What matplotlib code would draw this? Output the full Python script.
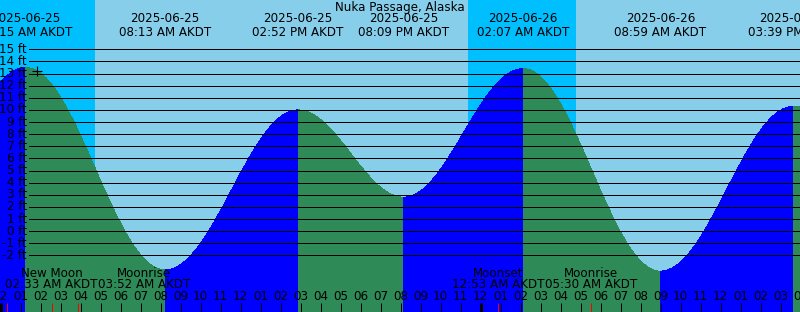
import matplotlib
matplotlib.use('Agg')
import matplotlib.pyplot as plt
from matplotlib.path import Path
from matplotlib.patches import PathPatch
import pandas as pd

# tide extremes (first and last are just outside the visible window)
tide_times = ['2025-06-24 19:24', '2025-06-25 01:15', '2025-06-25 08:13',
              '2025-06-25 14:52', '2025-06-25 20:09', '2025-06-26 02:07',
              '2025-06-26 08:59', '2025-06-26 15:39', '2025-06-26 21:00']
tide_heights = [2.6, 13.5, -3.2, 10.0, 2.8, 13.4, -3.3, 10.3, 3.0]

sunrise_times = ['2025-06-25 04:43', '2025-06-26 04:46']
sunset_times = ['2025-06-25 23:22']

moon_times = ['2025-06-25 00:18', '2025-06-25 02:33', '2025-06-25 03:52',
              '2025-06-26 00:53', '2025-06-26 05:30']
moon_names = ['Moonset', 'New Moon', 'Moonrise', 'Moonset', 'Moonrise']

now_time = '2025-06-25 01:49'
now_height = 13.2

title = 'Nuka Passage, Alaska'
ft_levels = list(range(-2, 16))
start = pd.Timestamp('2025-06-25 00:00')
view_hours = 40

NIGHT = '#00bfff'
DAY = '#87ceeb'
RISE = '#0000ff'
FALL = '#2e8b57'
FS = 8.6
THIN = 0.72


def hrs(s):
    return (pd.Timestamp(s) - start).total_seconds() / 3600


t_tide = [hrs(s) for s in tide_times]
t_moon = [hrs(s) for s in moon_times]

fig = plt.figure(figsize=(8, 3.12), dpi=100)
ax = fig.add_axes([0, 0, 1, 1])
ax.set_xlim(-0.035, -0.035 + view_hours)
ax.set_ylim(-6.67, 19.07)
ax.axis('off')
x0, x1 = ax.get_xlim()

# day / night background
ax.axvspan(x0, x1, color=DAY, lw=0, zorder=0)
ax.axvspan(x0 - 5, hrs(sunrise_times[0]), color=NIGHT, lw=0, zorder=0)
ax.axvspan(hrs(sunset_times[0]), hrs(sunrise_times[1]), color=NIGHT, lw=0, zorder=0)

# tide curve: smooth cosine-like segments between extremes
a = 0.3642
for i in range(len(t_tide) - 1):
    ta, tb = t_tide[i], t_tide[i + 1]
    ha, hb = tide_heights[i], tide_heights[i + 1]
    d = tb - ta
    verts = [(ta, -10), (ta, ha), (ta + a * d, ha), (tb - a * d, hb), (tb, hb),
             (tb, -10), (ta, -10)]
    codes = [Path.MOVETO, Path.LINETO, Path.CURVE4, Path.CURVE4, Path.CURVE4,
             Path.LINETO, Path.CLOSEPOLY]
    col = RISE if hb > ha else FALL
    ax.add_patch(PathPatch(Path(verts, codes), facecolor=col, edgecolor='none',
                           antialiased=False, zorder=1))

# height grid
for lv in ft_levels:
    ax.axhline(lv, xmin=29 / 800, xmax=1, color='black', lw=THIN,
               snap=True, zorder=2)
    ax.text(27 / 800, lv, f'{lv} ft', transform=ax.get_yaxis_transform(),
            ha='right', va='center', fontsize=FS, zorder=3)

ax.plot([hrs(now_time)], [now_height], marker='+', color='black', ms=7,
        mew=0.8, zorder=3)

xt = ax.get_xaxis_transform()
ax.text(0.5, 1 - 7 / 312, title, transform=ax.transAxes, ha='center',
        va='center', fontsize=FS)

# tide event labels at top
for s, t in zip(tide_times, t_tide):
    if x0 - 3 < t < x1 + 3:
        ts = pd.Timestamp(s)
        ax.text(t, 1 - 19 / 312, ts.strftime('%Y-%m-%d'), transform=xt,
                ha='center', va='center', fontsize=FS)
        ax.text(t, 1 - 32 / 312, ts.strftime('%I:%M %p AKDT'), transform=xt,
                ha='center', va='center', fontsize=FS)

# hour ticks and labels
for h in range(0, view_hours + 1):
    lab = f'{(h % 12) or 12:02d}'
    ax.text(h, 1 - 297 / 312, lab, transform=xt, ha='center', va='center',
            fontsize=FS)
    lw = 2.2 if h % 24 == 0 else THIN
    ax.plot([h, h], [0, 9 / 312], transform=xt, color='black', lw=lw,
            solid_capstyle='butt', snap=True, zorder=3)

for t in t_moon:
    ax.plot([t, t], [0, 9 / 312], transform=xt, color='red', lw=THIN,
            solid_capstyle='butt', snap=True, zorder=4)

# moon labels, pushed right so they don't overlap
fig.canvas.draw()
rend = fig.canvas.get_renderer()
prev_right = 0
for s, t, name in zip(moon_times, t_moon, moon_names):
    ts = pd.Timestamp(s)
    t1 = ax.text(0, 1 - 273.5 / 312, name, transform=xt, ha='center',
                 va='center', fontsize=FS)
    t2 = ax.text(0, 1 - 285 / 312, ts.strftime('%I:%M %p AKDT'), transform=xt,
                 ha='center', va='center', fontsize=FS)
    w = max(t1.get_window_extent(rend).width, t2.get_window_extent(rend).width)
    cx = ax.transData.transform((t, 0))[0]
    left = cx - w / 2
    if left < 0:
        t1.remove()
        t2.remove()
        continue
    left = max(left, prev_right)
    xc = ax.transData.inverted().transform((left + w / 2, 0))[0]
    t1.set_x(xc)
    t2.set_x(xc)
    prev_right = left + w

fig.savefig('out.png', dpi=100)
